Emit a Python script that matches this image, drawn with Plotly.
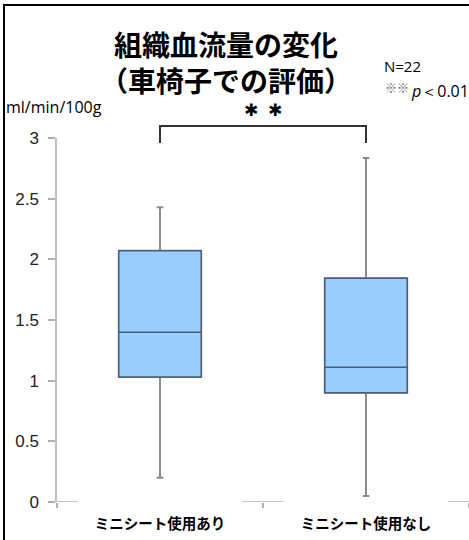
import plotly.graph_objects as go

# Tissue blood flow (ml/min/100g), wheelchair evaluation, five-number summaries
categories = ["ミニシート使用あり", "ミニシート使用なし"]
lower_whisker = [0.20, 0.05]
q1 = [1.03, 0.90]
median = [1.40, 1.11]
q3 = [2.07, 1.845]
upper_whisker = [2.43, 2.835]
y_ticks = [0, 0.5, 1, 1.5, 2, 2.5, 3]

W, H = 469, 540
ML, MR, MT, MB = 57, 0, 138, 38
JP = "Noto Sans CJK JP"
LAT = "Liberation Sans"
NOTE = "Open Sans"


def px_x(p):
    return (p - ML) / (W - ML - MR)


def px_y(p):
    return (H - MB - p) / (H - MT - MB)


fig = go.Figure()

# whiskers (gray)
fig.add_trace(go.Box(
    x=categories, q1=q1, median=median, q3=q3,
    lowerfence=lower_whisker, upperfence=upper_whisker,
    width=0.4, whiskerwidth=0.08,
    fillcolor="#99CCFF", line=dict(color="#8c8c8c", width=2),
    boxpoints=False, hoverinfo="skip", showlegend=False,
))
# boxes with darker outline and median
fig.add_trace(go.Box(
    x=categories, q1=q1, median=median, q3=q3,
    lowerfence=q1, upperfence=q3,
    width=0.4, whiskerwidth=0,
    fillcolor="#99CCFF", line=dict(color="#4a5d78", width=1.5),
    boxpoints=False, showlegend=False,
))

shapes = []
# x-axis baseline segments around the category labels
for a, b in [(-0.5, -0.4), (0.4, 0.6), (1.4, 1.5)]:
    shapes.append(dict(type="line", xref="x", yref="y", x0=a, x1=b, y0=0, y1=0,
                       line=dict(color="#b0b0b0", width=1.5)))

# significance bracket between the two groups
br_top, br_leg = px_y(126), px_y(143)
shapes.append(dict(type="path", xref="x", yref="paper",
                   path=f"M 0,{br_leg} L 0,{br_top} L 1,{br_top} L 1,{br_leg}",
                   line=dict(color="#333333", width=2)))

# frame lines (left and top)
shapes.append(dict(type="line", xref="paper", yref="paper",
                   x0=px_x(4), x1=px_x(4), y0=px_y(5), y1=px_y(H + 5),
                   line=dict(color="black", width=2)))
shapes.append(dict(type="line", xref="paper", yref="paper",
                   x0=px_x(3), x1=px_x(W + 5), y0=px_y(5), y1=px_y(5),
                   line=dict(color="black", width=2)))

annotations = [
    dict(text="<b>組織血流量の変化<br>（車椅子での評価）</b>", xref="paper", yref="paper",
         x=px_x(226), y=px_y(62), xanchor="center", yanchor="middle", showarrow=False,
         font=dict(family=JP, size=28, color="black")),
    dict(text="ml/min/100g", xref="paper", yref="paper",
         x=px_x(4), y=px_y(107), xanchor="left", yanchor="middle", showarrow=False,
         font=dict(family=NOTE, size=16, color="black")),
    dict(text="N=22", xref="paper", yref="paper",
         x=px_x(382), y=px_y(66), xanchor="left", yanchor="middle", showarrow=False,
         font=dict(family=NOTE, size=15, color="black")),
    dict(text="※※", xref="paper", yref="paper",
         x=px_x(383), y=px_y(87), xanchor="left", yanchor="middle", showarrow=False,
         font=dict(family=JP, size=12, color="#666666")),
    dict(text="<i>p</i>＜0.01", xref="paper", yref="paper",
         x=px_x(409), y=px_y(91), xanchor="left", yanchor="middle", showarrow=False,
         font=dict(family=NOTE, size=16, color="black")),
]

# significance marks above the bracket
for dx in (-0.058, 0.058):
    annotations.append(dict(text="✱", xref="x", yref="paper",
                            x=0.5 + dx, y=px_y(110), xanchor="center", yanchor="middle",
                            showarrow=False,
                            font=dict(family="DejaVu Sans", size=17, color="black")))

fig.update_layout(
    width=W, height=H,
    margin=dict(l=ML, r=MR, t=MT, b=MB),
    paper_bgcolor="white", plot_bgcolor="white",
    shapes=shapes, annotations=annotations,
    xaxis=dict(
        type="category", range=[-0.5, 1.5], tickson="boundaries",
        ticks="outside", ticklen=5, tickcolor="#b0b0b0", tickwidth=1.5,
        showline=False, showgrid=False, zeroline=False,
        tickfont=dict(family=JP, size=14.5, color="black", weight="bold"),
        ticklabelstandoff=11,
    ),
    yaxis=dict(
        range=[0, 3], tickvals=y_ticks, ticktext=[f"{v:g}" for v in y_ticks],
        showline=True, linecolor="#c0c0c0", linewidth=1.5,
        ticks="outside", ticklen=7, tickcolor="#b0b0b0", tickwidth=1.5,
        showgrid=False, zeroline=False,
        tickfont=dict(family=LAT, size=17, color="#222222"),
        ticklabelstandoff=6,
    ),
)

fig.write_html("out.html")
